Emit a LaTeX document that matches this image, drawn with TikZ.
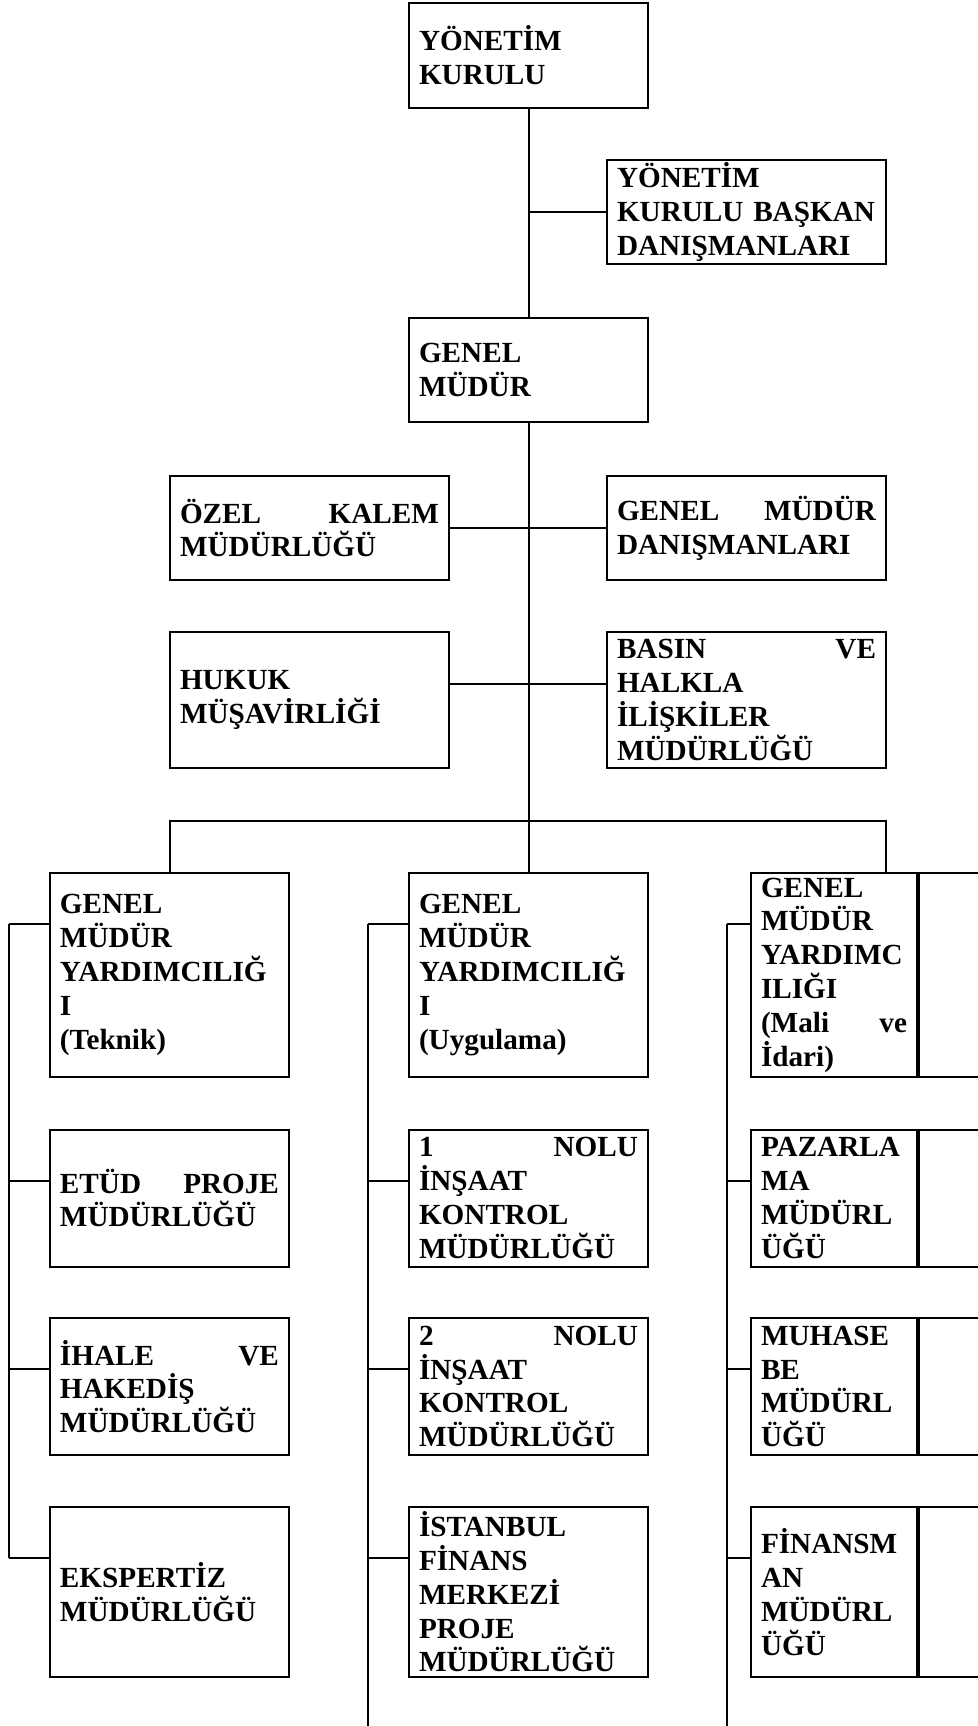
\documentclass[tikz,border=0pt]{standalone}
\usepackage{fontspec}
\setmainfont{Liberation Serif}
\usetikzlibrary{positioning}
\newcommand{\orgfont}{\fontsize{14.6}{16.9}\selectfont\bfseries}

\begin{document}
\begin{tikzpicture}[x=0.5pt, y=-0.5pt, line width=1pt,
    orgbox/.style={draw, inner sep=0pt, align=left, font=\orgfont},
    midbox/.style={orgbox, minimum width=119.5pt, text width=109.5pt},
    widebox/.style={orgbox, minimum width=139.5pt, text width=129.5pt},
    slimbox/.style={orgbox, minimum width=83pt, text width=73pt},
    padbox/.style={draw, inner sep=0pt, minimum width=52pt, anchor=west}
  ]
    \useasboundingbox (0,0) rectangle (978,1726);
    \clip (0,0) rectangle (978,1726);

    % top of the chart
    \node[midbox, minimum height=52.5pt] (yk) at (528.5,55.5)
      {YÖNETİM\\KURULU};
    \node[widebox, minimum height=52pt] (ykbd) at (746.5,212)
      {YÖNETİM\\\mbox{KURULU BAŞKAN}\\DANIŞMANLARI};
    \node[midbox, minimum height=52pt] (gm) at (528.5,370)
      {GENEL\\MÜDÜR};
    \node[widebox, minimum height=52pt] (ozel) at (309.5,528)
      {ÖZEL\hfill KALEM\\MÜDÜRLÜĞÜ};
    \node[widebox, minimum height=52pt] (gmd) at (746.5,528)
      {GENEL\hfill MÜDÜR\\DANIŞMANLARI};
    \node[widebox, minimum height=68pt] (hukuk) at (309.5,700)
      {HUKUK\\MÜŞAVİRLİĞİ};
    \node[widebox, minimum height=68pt] (basin) at (746.5,700)
      {BASIN\hfill VE\\HALKLA\\İLİŞKİLER\\MÜDÜRLÜĞÜ};

    % assistant general managers
    \node[midbox, minimum height=102pt] (gmyt) at (169.5,975)
      {GENEL\\MÜDÜR\\YARDIMCILIĞ\\I\\(Teknik)};
    \node[midbox, minimum height=102pt] (gmyu) at (528.5,975)
      {GENEL\\MÜDÜR\\YARDIMCILIĞ\\I\\(Uygulama)};
    \node[slimbox, minimum height=102pt] (gmym) at (834,975)
      {GENEL\\MÜDÜR\\YARDIMC\\ILIĞI\\(Mali\hfill ve\\İdari)};
    \node[padbox, minimum height=102pt] (gmymx) at (gmym.east) {};

    % departments
    \node[midbox, minimum height=68.5pt] (etud) at (169.5,1198)
      {ETÜD\hfill PROJE\\MÜDÜRLÜĞÜ};
    \node[midbox, minimum height=68.5pt] (ihale) at (169.5,1386.5)
      {İHALE\hfill VE\\HAKEDİŞ\\MÜDÜRLÜĞÜ};
    \node[midbox, minimum height=85pt] (eksp) at (169.5,1592)
      {EKSPERTİZ\\MÜDÜRLÜĞÜ};
    \node[midbox, minimum height=68.5pt] (ins1) at (528.5,1198)
      {1\hfill NOLU\\İNŞAAT\\KONTROL\\MÜDÜRLÜĞÜ};
    \node[midbox, minimum height=68.5pt] (ins2) at (528.5,1386.5)
      {2\hfill NOLU\\İNŞAAT\\KONTROL\\MÜDÜRLÜĞÜ};
    \node[midbox, minimum height=85pt] (ifm) at (528.5,1592)
      {İSTANBUL\\FİNANS\\MERKEZİ\\PROJE\\MÜDÜRLÜĞÜ};
    \node[slimbox, minimum height=68.5pt] (pazar) at (834,1198)
      {PAZARLA\\MA\\MÜDÜRL\\ÜĞÜ};
    \node[slimbox, minimum height=68.5pt] (muhas) at (834,1386.5)
      {MUHASE\\BE\\MÜDÜRL\\ÜĞÜ};
    \node[slimbox, minimum height=85pt] (finans) at (834,1592)
      {FİNANSM\\AN\\MÜDÜRL\\ÜĞÜ};
    \node[padbox, minimum height=68.5pt] (pazarx) at (pazar.east) {};
    \node[padbox, minimum height=68.5pt] (muhasx) at (muhas.east) {};
    \node[padbox, minimum height=85pt] (finansx) at (finans.east) {};

    % connectors
    \draw (yk.south) -- (gm.north);
    \draw (ykbd.west) -- (ykbd.west -| yk.south);
    \draw (ozel.east) -- (gmd.west);
    \draw ([yshift=8pt]hukuk.east) -- ([yshift=8pt]basin.west);
    \coordinate (busr) at (886,821);
    \coordinate (bottom) at (0,1730);
    \draw (gm.south) -- (gmyu.north);
    \draw (gmyt.north) |- (busr) -- (busr |- gmymx.north);

    % side rails
    \foreach \b in {gmyt,etud,ihale,eksp,gmyu,ins1,ins2,ifm}
      \draw ([yshift=-26pt]\b.north west) -- ++(-20pt,0);
    \foreach \b in {gmym,pazar,muhas,finans}
      \draw ([yshift=-26pt]\b.north west) -- ++(-11.5pt,0);
    \draw ([xshift=-20pt,yshift=-26pt]gmyt.north west)
      -- ([xshift=-20pt,yshift=-26pt]eksp.north west);
    \draw ([xshift=-20pt,yshift=-26pt]gmyu.north west)
      -- ([xshift=-20pt]gmyu.north west |- bottom);
    \draw ([xshift=-11.5pt,yshift=-26pt]gmym.north west)
      -- ([xshift=-11.5pt]gmym.north west |- bottom);
  \end{tikzpicture}
\end{document}
